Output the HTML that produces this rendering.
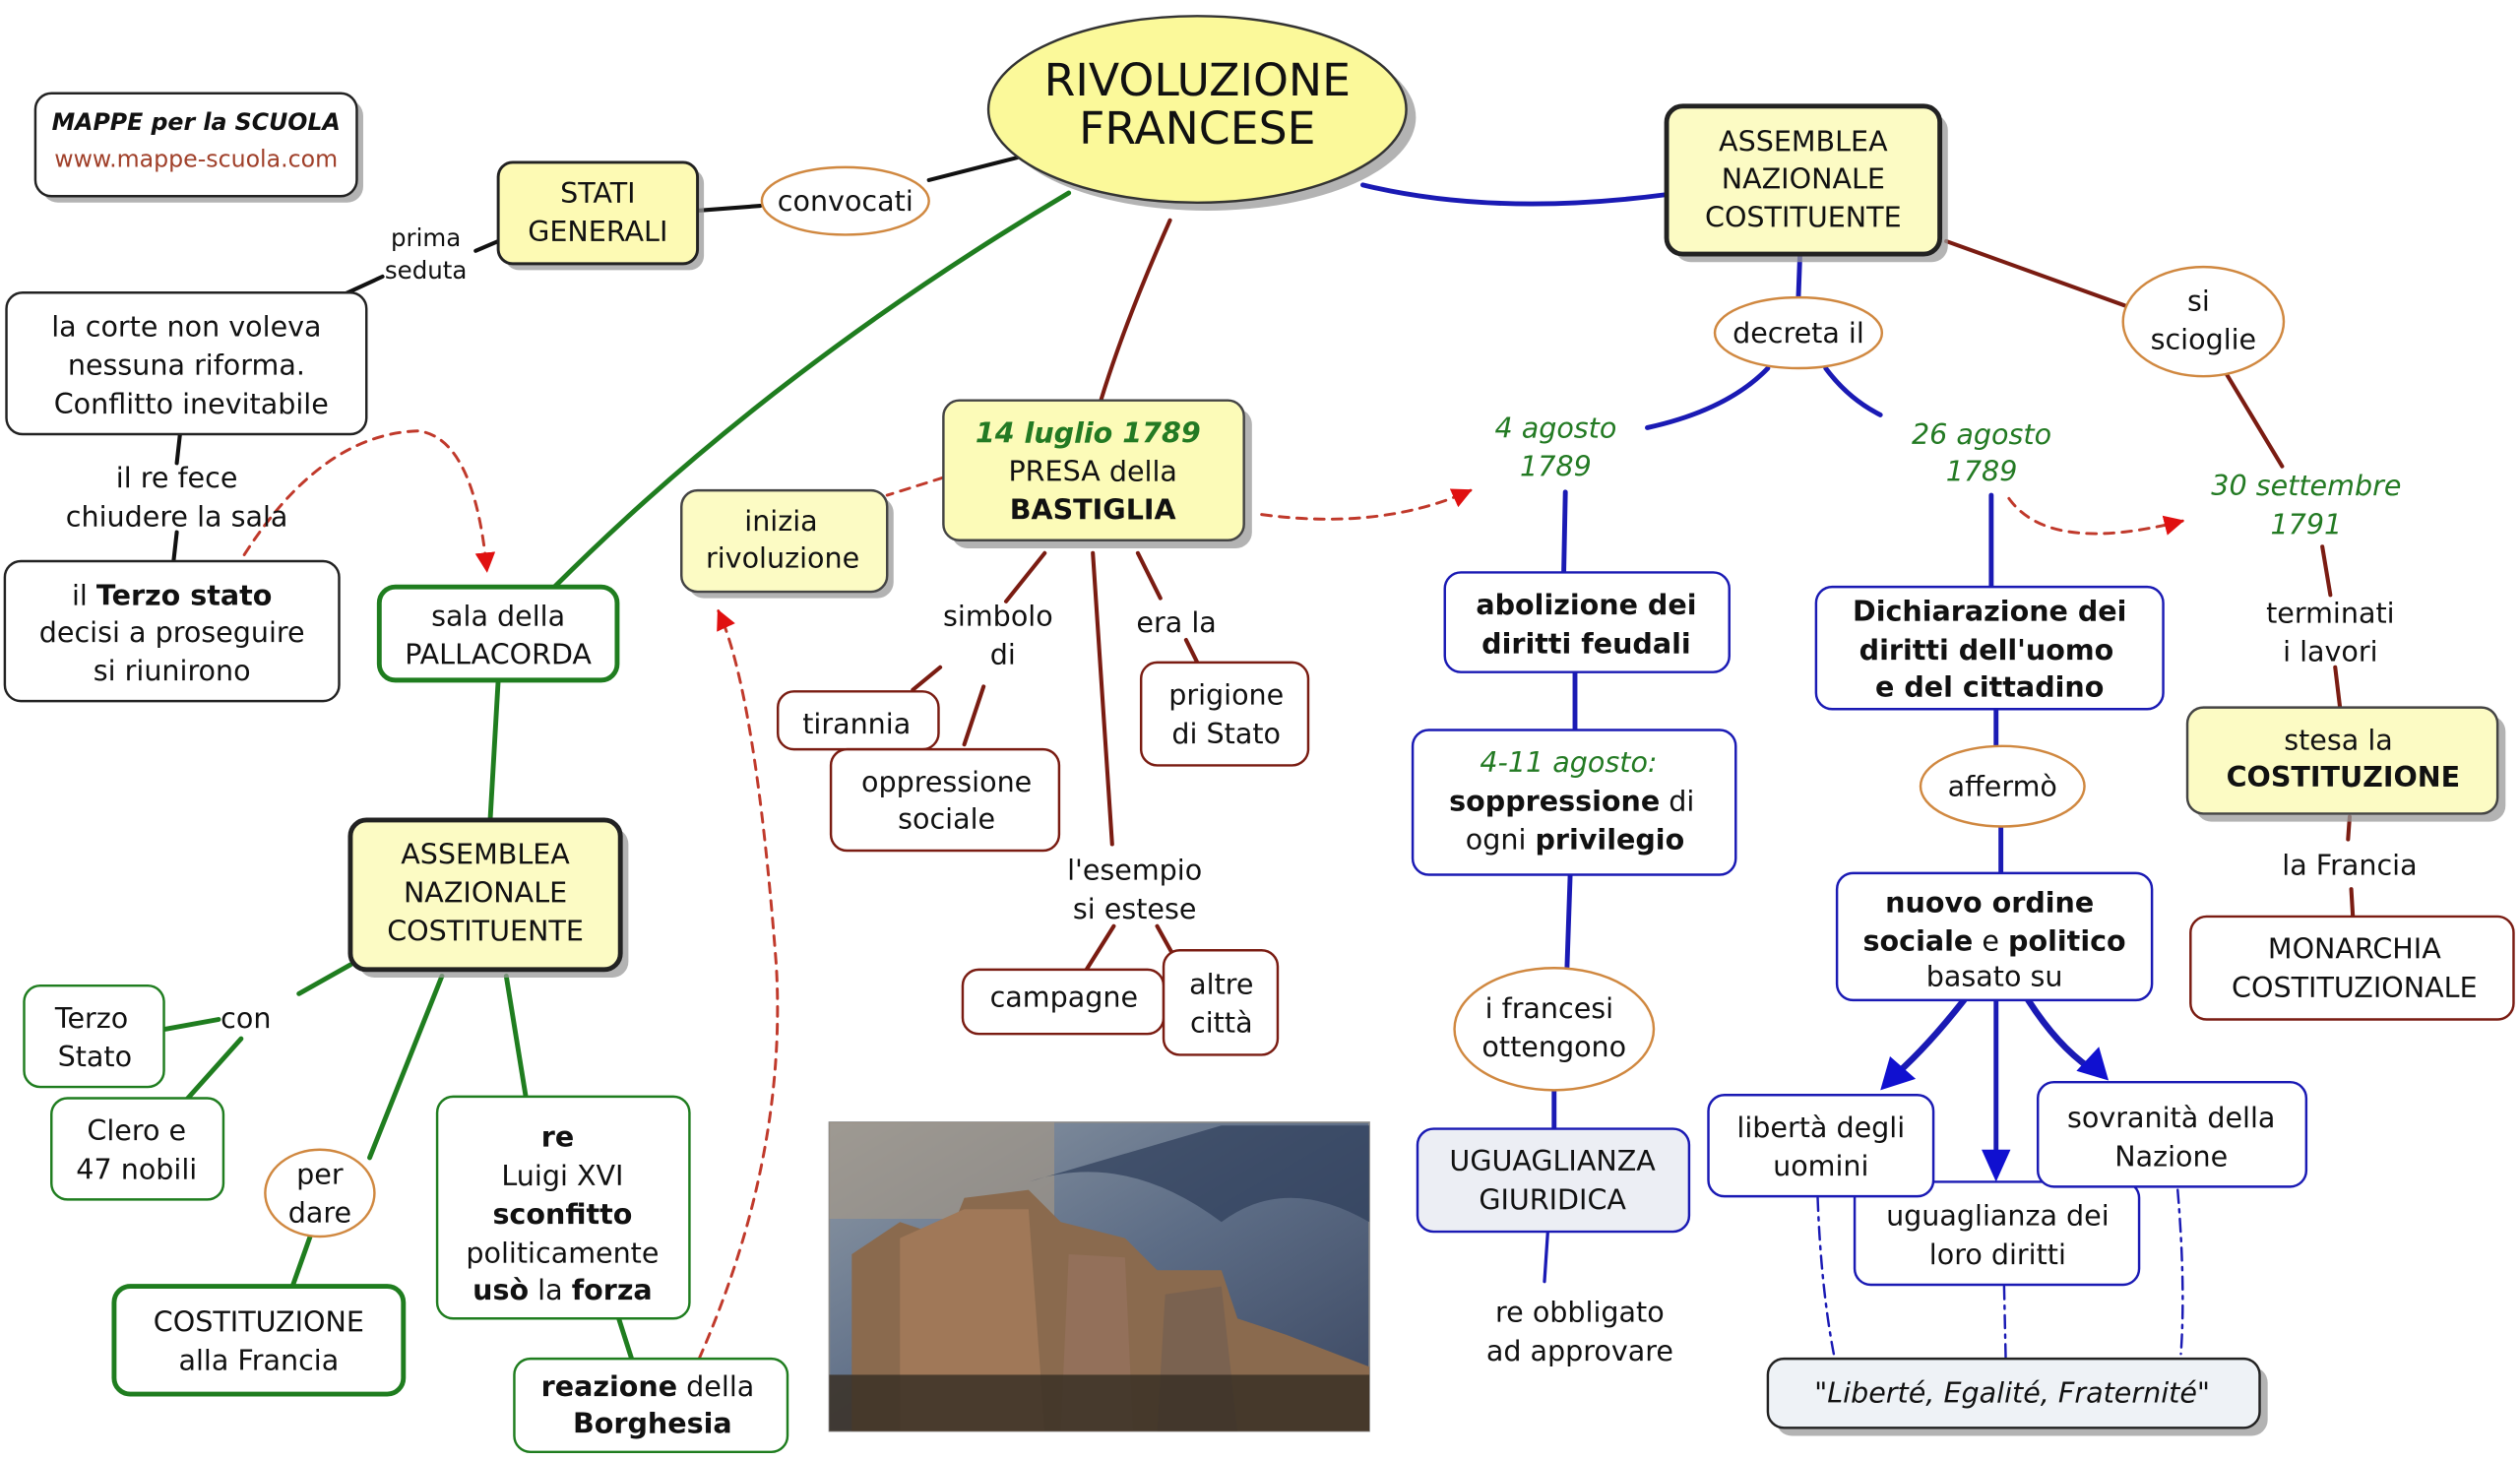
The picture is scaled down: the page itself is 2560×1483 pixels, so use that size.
<!DOCTYPE html>
<html><head><meta charset="utf-8"><style>
html,body{margin:0;padding:0;background:#fff;}
svg{display:block;}
text{font-family:"DejaVu Sans","Liberation Sans",sans-serif;font-size:17.5px;text-anchor:middle;dominant-baseline:central;fill:#111;}
.b{font-weight:bold}
.gi{fill:#237a23;font-style:italic}
.sh{fill:#999;opacity:.75}
</style></head><body>
<svg width="2560" height="1483" viewBox="0 0 1568 908" preserveAspectRatio="none" xmlns="http://www.w3.org/2000/svg">
<defs>
<linearGradient id="sky" x1="0" y1="0" x2="1" y2="1"><stop offset="0" stop-color="#8f9aa6"/><stop offset=".5" stop-color="#5d6d86"/><stop offset="1" stop-color="#3a4660"/></linearGradient>
<marker id="ar" viewBox="0 0 10 10" refX="9" refY="5" markerWidth="7" markerHeight="7" orient="auto"><path d="M0,0L10,5L0,10z" fill="#e01010"/></marker>
<marker id="ab" viewBox="0 0 10 10" refX="9" refY="5" markerWidth="5" markerHeight="5" orient="auto"><path d="M0,0L10,5L0,10z" fill="#1010d0"/></marker>
</defs>

<!-- connectors -->
<g fill="none" stroke-linecap="round">
<g stroke="#111" stroke-width="2.5">
<path d="M434,131 L473,128"/><path d="M578,112 L633,98"/>
<path d="M310,150 L296,156"/><path d="M238,172 L212,184"/>
<path d="M112,270 L110,288"/><path d="M110,331 L108,349"/>
</g>
<g stroke="#1f7d1f" stroke-width="3">
<path d="M345,365 Q480,230 665,120"/>
<path d="M310,423 L305,510"/>
<path d="M218,600 L186,618"/><path d="M103,640 L136,634"/><path d="M150,646 L116,684"/>
<path d="M275,607 L230,720"/><path d="M193,769 L182,800"/>
<path d="M315,607 L327,681"/><path d="M385,820 L393,845"/>
</g>
<g stroke="#7a1c12" stroke-width="2.5">
<path d="M728,137 Q700,200 685,249"/>
<path d="M650,344 L626,374"/><path d="M612,427 L600,463"/><path d="M585,415 L568,429"/>
<path d="M708,344 L722,372"/><path d="M738,398 L745,412"/>
<path d="M680,344 L692,525"/>
<path d="M693,576 L676,603"/><path d="M720,576 L730,594"/>
<path d="M1211,150 L1322,190"/><path d="M1385,232 L1420,290"/>
<path d="M1445,340 L1450,370"/><path d="M1453,415 L1456,440"/>
<path d="M1462,508 L1461,522"/><path d="M1463,553 L1464,570"/>
</g>
<g stroke="#1a1ab4" stroke-width="3">
<path d="M848,115 Q930,135 1037,121"/>
<path d="M1120,158 L1119,185"/>
<path d="M1100,229 Q1075,255 1025,266"/><path d="M1136,229 Q1150,248 1170,258"/>
<path d="M974,306 L973,356"/><path d="M980,418 L980,454"/><path d="M977,544 L975,603"/>
<path d="M967,678 L967,702"/><path d="M963,767 L961,797" stroke-width="2"/>
<path d="M1239,308 L1239,365"/><path d="M1242,441 L1242,467"/><path d="M1245,514 L1245,543"/>
<path d="M1222,622 Q1200,650 1180,668" stroke-width="4"/>
<path d="M1242,622 L1242,716" stroke-width="3"/>
<path d="M1262,622 Q1280,650 1300,664" stroke-width="4"/>
</g>
<g stroke="#1a1ab4" stroke-width="1.5" stroke-dasharray="8,4,2,4">
<path d="M1131,745 Q1133,800 1141,842"/><path d="M1247,800 L1248,845"/><path d="M1355,740 Q1360,800 1357,842"/>
</g>
<g stroke="#c0392b" stroke-width="1.8" stroke-dasharray="6,5">
<path d="M152,345 Q200,270 260,268 Q295,272 303,355" marker-end="url(#ar)"/>
<path d="M435,845 Q490,720 483,600 Q470,430 447,380" marker-end="url(#ar)"/>
<path d="M587,297 L552,308"/>
<path d="M785,320 Q860,330 915,305" marker-end="url(#ar)"/>
<path d="M1250,310 Q1275,345 1358,324" marker-end="url(#ar)"/>
</g>
</g>
<!-- blue arrowheads -->
<g fill="#1010d0">
<path d="M1170,678 L1176,657 L1192,671z"/>
<path d="M1242,735 L1233,715 L1251,715z"/>
<path d="M1312,672 L1292,666 L1306,651z"/>
</g>

<!-- logo -->
<rect x="26" y="62" width="200" height="64" rx="10" class="sh"/>
<rect x="22" y="58" width="200" height="64" rx="10" fill="#fff" stroke="#222" stroke-width="1.5"/>
<text x="122" y="76" class="b" style="font-style:italic;font-size:14.5px">MAPPE per la SCUOLA</text>
<text x="122" y="99" style="font-size:14.5px;fill:#a0402a">www.mappe-scuola.com</text>

<!-- central ellipse -->
<ellipse cx="751" cy="73" rx="130" ry="58" class="sh"/>
<ellipse cx="745" cy="68" rx="130" ry="58" fill="#fbf99a" stroke="#333" stroke-width="1.5"/>
<text x="745" y="50" style="font-size:28px">RIVOLUZIONE</text>
<text x="745" y="80" style="font-size:28px">FRANCESE</text>

<!-- STATI GENERALI -->
<rect x="314" y="105" width="124" height="63" rx="9" class="sh"/>
<rect x="310" y="101" width="124" height="63" rx="9" fill="#fdfab4" stroke="#222" stroke-width="1.8"/>
<text x="372" y="120">STATI</text><text x="372" y="144">GENERALI</text>
<ellipse cx="526" cy="125" rx="52" ry="21" fill="#fff" stroke="#d08840" stroke-width="1.5"/>
<text x="526" y="125">convocati</text>
<text x="265" y="148" style="font-size:15px">prima</text><text x="265" y="168" style="font-size:15px">seduta</text>

<!-- la corte -->
<rect x="4" y="182" width="224" height="88" rx="10" fill="#fff" stroke="#222" stroke-width="1.5"/>
<text x="116" y="203">la corte non voleva</text><text x="116" y="227">nessuna riforma.</text><text x="119" y="251">Conflitto inevitabile</text>
<text x="110" y="297">il re fece</text><text x="110" y="321">chiudere la sala</text>
<rect x="3" y="349" width="208" height="87" rx="10" fill="#fff" stroke="#222" stroke-width="1.5"/>
<text x="107" y="370">il <tspan class="b">Terzo stato</tspan></text><text x="107" y="393">decisi a proseguire</text><text x="107" y="417">si riunirono</text>

<!-- pallacorda -->
<rect x="236" y="365" width="148" height="58" rx="10" fill="#fff" stroke="#1f7d1f" stroke-width="3"/>
<text x="310" y="383">sala della</text><text x="310" y="407">PALLACORDA</text>

<!-- Assemblea left -->
<rect x="223" y="515" width="168" height="93" rx="10" class="sh"/>
<rect x="218" y="510" width="168" height="93" rx="10" fill="#fcfbc4" stroke="#222" stroke-width="3"/>
<text x="302" y="531">ASSEMBLEA</text><text x="302" y="555">NAZIONALE</text><text x="302" y="579">COSTITUENTE</text>
<text x="153" y="633">con</text>
<rect x="15" y="613" width="87" height="63" rx="10" fill="#fff" stroke="#1f7d1f" stroke-width="1.5"/>
<text x="57" y="633">Terzo</text><text x="59" y="657">Stato</text>
<rect x="32" y="683" width="107" height="63" rx="10" fill="#fff" stroke="#1f7d1f" stroke-width="1.5"/>
<text x="85" y="703">Clero e</text><text x="85" y="727">47 nobili</text>
<ellipse cx="199" cy="742" rx="34" ry="27" fill="#fff" stroke="#d08840" stroke-width="1.5"/>
<text x="199" y="730">per</text><text x="199" y="754">dare</text>
<rect x="71" y="800" width="180" height="67" rx="10" fill="#fff" stroke="#1f7d1f" stroke-width="3"/>
<text x="161" y="822">COSTITUZIONE</text><text x="161" y="846">alla Francia</text>
<rect x="272" y="682" width="157" height="138" rx="10" fill="#fff" stroke="#1f7d1f" stroke-width="1.5"/>
<text x="347" y="707" class="b">re</text><text x="350" y="731">Luigi XVI</text><text x="350" y="755" class="b">sconfitto</text><text x="350" y="779">politicamente</text><text x="350" y="802"><tspan class="b">usò</tspan> la <tspan class="b">forza</tspan></text>
<rect x="320" y="845" width="170" height="58" rx="10" fill="#fff" stroke="#1f7d1f" stroke-width="1.5"/>
<text x="403" y="862"><tspan class="b">reazione</tspan> della</text><text x="406" y="885" class="b">Borghesia</text>

<!-- image -->
<g>
<rect x="516" y="698" width="336" height="192" fill="url(#sky)" stroke="#888"/>
<rect x="516" y="698" width="140" height="60" fill="#a89a86" opacity=".6"/>
<path d="M530,890 L530,780 L560,760 L590,770 L600,745 L640,740 L660,760 L700,770 L720,790 L760,790 L770,820 L800,830 L852,850 L852,890z" fill="#8a6a4e"/>
<path d="M560,890 L560,770 L600,752 L640,752 L650,890z" fill="#a07858"/>
<path d="M660,890 L665,780 L700,782 L705,890z" fill="#93705a"/>
<path d="M720,890 L725,805 L760,800 L770,890z" fill="#7a6250"/>
<path d="M640,735 Q700,715 760,760 Q800,730 852,760 L852,700 L760,700z" fill="#2d3d5a" opacity=".7"/>
<rect x="516" y="855" width="336" height="35" fill="#3a3026" opacity=".85"/>
</g>

<!-- 14 luglio -->
<rect x="592" y="254" width="187" height="87" rx="10" class="sh"/>
<rect x="587" y="249" width="187" height="87" rx="10" fill="#fcfbb8" stroke="#444" stroke-width="1.5"/>
<text x="677" y="269" class="b gi">14 luglio 1789</text><text x="680" y="293">PRESA della</text><text x="680" y="317" class="b">BASTIGLIA</text>
<rect x="428" y="309" width="128" height="63" rx="10" class="sh"/>
<rect x="424" y="305" width="128" height="63" rx="10" fill="#fcfbc4" stroke="#444" stroke-width="1.5"/>
<text x="486" y="324">inizia</text><text x="487" y="347">rivoluzione</text>
<text x="621" y="383">simbolo</text><text x="624" y="407">di</text>
<rect x="484" y="430" width="100" height="36" rx="10" fill="#fff" stroke="#7a1c12" stroke-width="1.5"/>
<text x="533" y="450">tirannia</text>
<rect x="517" y="466" width="142" height="63" rx="10" fill="#fff" stroke="#7a1c12" stroke-width="1.5"/>
<text x="589" y="486">oppressione</text><text x="589" y="509">sociale</text>
<text x="732" y="387">era la</text>
<rect x="710" y="412" width="104" height="64" rx="10" fill="#fff" stroke="#7a1c12" stroke-width="1.5"/>
<text x="763" y="432">prigione</text><text x="763" y="456">di Stato</text>
<text x="706" y="541">l'esempio</text><text x="706" y="565">si estese</text>
<rect x="599" y="603" width="125" height="40" rx="10" fill="#fff" stroke="#7a1c12" stroke-width="1.5"/>
<text x="662" y="620">campagne</text>
<rect x="724" y="591" width="71" height="65" rx="10" fill="#fff" stroke="#7a1c12" stroke-width="1.5"/>
<text x="760" y="612">altre</text><text x="760" y="636">città</text>

<!-- Assemblea right -->
<rect x="1042" y="71" width="170" height="92" rx="10" class="sh"/>
<rect x="1037" y="66" width="170" height="92" rx="10" fill="#fcfbc4" stroke="#222" stroke-width="3"/>
<text x="1122" y="88">ASSEMBLEA</text><text x="1122" y="111">NAZIONALE</text><text x="1122" y="135">COSTITUENTE</text>
<ellipse cx="1119" cy="207" rx="52" ry="22" fill="#fff" stroke="#d08840" stroke-width="1.5"/>
<text x="1119" y="207">decreta il</text>
<ellipse cx="1371" cy="200" rx="50" ry="34" fill="#fff" stroke="#d08840" stroke-width="1.5"/>
<text x="1368" y="187">si</text><text x="1371" y="211">scioglie</text>
<text x="968" y="266" class="gi">4 agosto</text><text x="968" y="290" class="gi">1789</text>
<text x="1233" y="270" class="gi">26 agosto</text><text x="1233" y="293" class="gi">1789</text>
<text x="1435" y="302" class="gi">30 settembre</text><text x="1435" y="326" class="gi">1791</text>

<rect x="899" y="356" width="177" height="62" rx="10" fill="#fff" stroke="#1a1ab4" stroke-width="1.5"/>
<text x="987" y="376" class="b">abolizione dei</text><text x="987" y="400" class="b">diritti feudali</text>
<rect x="879" y="454" width="201" height="90" rx="10" fill="#fff" stroke="#1a1ab4" stroke-width="1.5"/>
<text x="976" y="474" class="gi">4-11 agosto:</text><text x="978" y="498"><tspan class="b">soppressione</tspan> di</text><text x="980" y="522">ogni <tspan class="b">privilegio</tspan></text>
<ellipse cx="967" cy="640" rx="62" ry="38" fill="#fff" stroke="#d08840" stroke-width="1.5"/>
<text x="964" y="627">i francesi</text><text x="967" y="651">ottengono</text>
<rect x="882" y="702" width="169" height="64" rx="10" fill="#eceef4" stroke="#1a1ab4" stroke-width="1.5"/>
<text x="966" y="722">UGUAGLIANZA</text><text x="966" y="746">GIURIDICA</text>
<text x="983" y="816">re obbligato</text><text x="983" y="840">ad approvare</text>

<rect x="1130" y="365" width="216" height="76" rx="10" fill="#fff" stroke="#1a1ab4" stroke-width="1.5"/>
<text x="1238" y="380" class="b">Dichiarazione dei</text><text x="1236" y="404" class="b">diritti dell'uomo</text><text x="1238" y="427" class="b">e del cittadino</text>
<ellipse cx="1246" cy="489" rx="51" ry="25" fill="#fff" stroke="#d08840" stroke-width="1.5"/>
<text x="1246" y="489">affermò</text>
<rect x="1143" y="543" width="196" height="79" rx="10" fill="#fff" stroke="#1a1ab4" stroke-width="1.5"/>
<text x="1238" y="561" class="b">nuovo ordine</text><text x="1241" y="585"><tspan class="b">sociale</tspan> e <tspan class="b">politico</tspan></text><text x="1241" y="607">basato su</text>
<rect x="1154" y="735" width="177" height="64" rx="10" fill="#fff" stroke="#1a1ab4" stroke-width="1.5"/>
<text x="1243" y="756">uguaglianza dei</text><text x="1243" y="780">loro diritti</text>
<rect x="1063" y="681" width="140" height="63" rx="10" fill="#fff" stroke="#1a1ab4" stroke-width="1.5"/>
<text x="1133" y="701">libertà degli</text><text x="1133" y="725">uomini</text>
<rect x="1268" y="673" width="167" height="65" rx="10" fill="#fff" stroke="#1a1ab4" stroke-width="1.5"/>
<text x="1351" y="695">sovranità della</text><text x="1351" y="719">Nazione</text>
<rect x="1105" y="850" width="306" height="43" rx="10" class="sh"/>
<rect x="1100" y="845" width="306" height="43" rx="10" fill="#eef2f6" stroke="#222" stroke-width="1.5"/>
<text x="1252" y="866" style="font-style:italic">"Liberté, Egalité, Fraternité"</text>

<text x="1450" y="381">terminati</text><text x="1450" y="405">i lavori</text>
<rect x="1366" y="445" width="193" height="66" rx="10" class="sh"/>
<rect x="1361" y="440" width="193" height="66" rx="10" fill="#fcfbc4" stroke="#444" stroke-width="1.5"/>
<text x="1455" y="460">stesa la</text><text x="1458" y="483" class="b">COSTITUZIONE</text>
<text x="1462" y="538">la Francia</text>
<rect x="1363" y="570" width="201" height="64" rx="10" fill="#fff" stroke="#7a1c12" stroke-width="1.5"/>
<text x="1465" y="590">MONARCHIA</text><text x="1465" y="614">COSTITUZIONALE</text>
</svg>
</body></html>
